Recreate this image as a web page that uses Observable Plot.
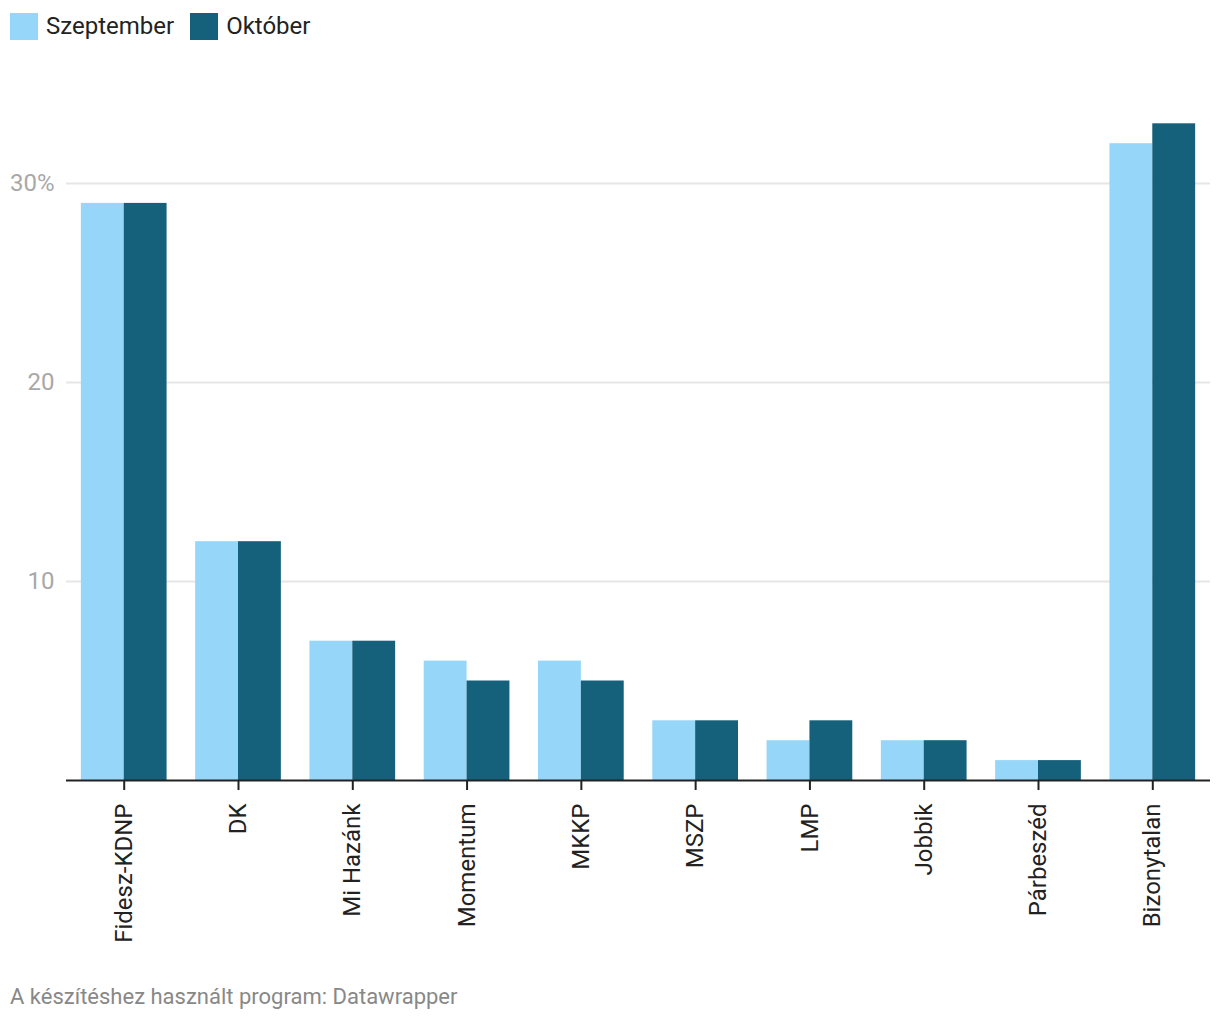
<!DOCTYPE html>
<html>
<head>
<meta charset="utf-8">
<script src="https://cdn.jsdelivr.net/npm/d3@7"></script>
<script src="https://cdn.jsdelivr.net/npm/@observablehq/plot@0.6"></script>
<style>
  html, body { margin: 0; padding: 0; background: #fff; font-family: Roboto, sans-serif; }
  #wrap { position: relative; width: 1220px; height: 1020px; }
  #legend { position: absolute; left: 10px; top: 12px; display: flex; align-items: center; font-size: 24px; color: #222; }
  .item { display: flex; align-items: center; margin-right: 16px; }
  .sw { width: 28px; height: 27px; margin-right: 8px; }
  #chart { position: absolute; left: 0; top: 0; }
  #caption { position: absolute; left: 10px; top: 984px; font-size: 22px; color: #888; }
</style>
</head>
<body>
<div id="wrap">
  <div id="chart"></div>
  <div id="legend"></div>
  <div id="caption">A készítéshez használt program: Datawrapper</div>
</div>
<script>
const parties = ["Fidesz-KDNP", "DK", "Mi Hazánk", "Momentum", "MKKP", "MSZP", "LMP", "Jobbik", "Párbeszéd", "Bizonytalan"];
const months = ["Szeptember", "Október"];
const szeptember = [29, 12, 7, 6, 6, 3, 2, 2, 1, 32];
const oktober = [29, 12, 7, 5, 5, 3, 3, 2, 1, 33];
const colors = ["#96d6f8", "#15607a"];
const yTicks = [10, 20, 30];

const W = 1220, H = 960, ML = 66, MR = 10, MT = 123.3, MB = 180;
const PI = 0.25, PO = 0.13;
const step = (W - ML - MR) / (parties.length - PI + 2 * PO);
const half = step * (1 - PI) / 2;

const dSept = parties.map((p, i) => ({party: p, value: szeptember[i]}));
const dOkt = parties.map((p, i) => ({party: p, value: oktober[i]}));

const chart = Plot.plot({
  width: W, height: H,
  marginLeft: ML, marginRight: MR, marginTop: MT, marginBottom: MB,
  style: {fontFamily: "Roboto, sans-serif", fontSize: "24px", background: "transparent"},
  x: {domain: parties, paddingInner: PI, paddingOuter: PO, round: false, label: null},
  y: {domain: [0, 33], label: null},
  marks: [
    Plot.ruleY(yTicks, {stroke: "#e6e6e6", strokeWidth: 2}),
    Plot.barY(dSept, {x: "party", y: "value", fill: colors[0], insetRight: half}),
    Plot.barY(dOkt, {x: "party", y: "value", fill: colors[1], insetLeft: half}),
    Plot.ruleY([0], {stroke: "#222", strokeWidth: 2}),
    Plot.axisX({tickSize: 10, tickRotate: -90, tickPadding: 13, color: "#222", strokeWidth: 2, fontSize: 24, label: null}),
    Plot.axisY({ticks: yTicks, tickSize: 0, tickPadding: 12, tickFormat: d => d === 30 ? "30%" : String(d), color: "#a8a8a8", fontSize: 24, label: null})
  ]
});
document.getElementById("chart").appendChild(chart);

const legend = document.getElementById("legend");
months.forEach((m, i) => {
  const it = document.createElement("div");
  it.className = "item";
  const sw = document.createElement("div");
  sw.className = "sw";
  sw.style.background = colors[i];
  const t = document.createElement("span");
  t.textContent = m;
  it.appendChild(sw); it.appendChild(t);
  legend.appendChild(it);
});
</script>
</body>
</html>
